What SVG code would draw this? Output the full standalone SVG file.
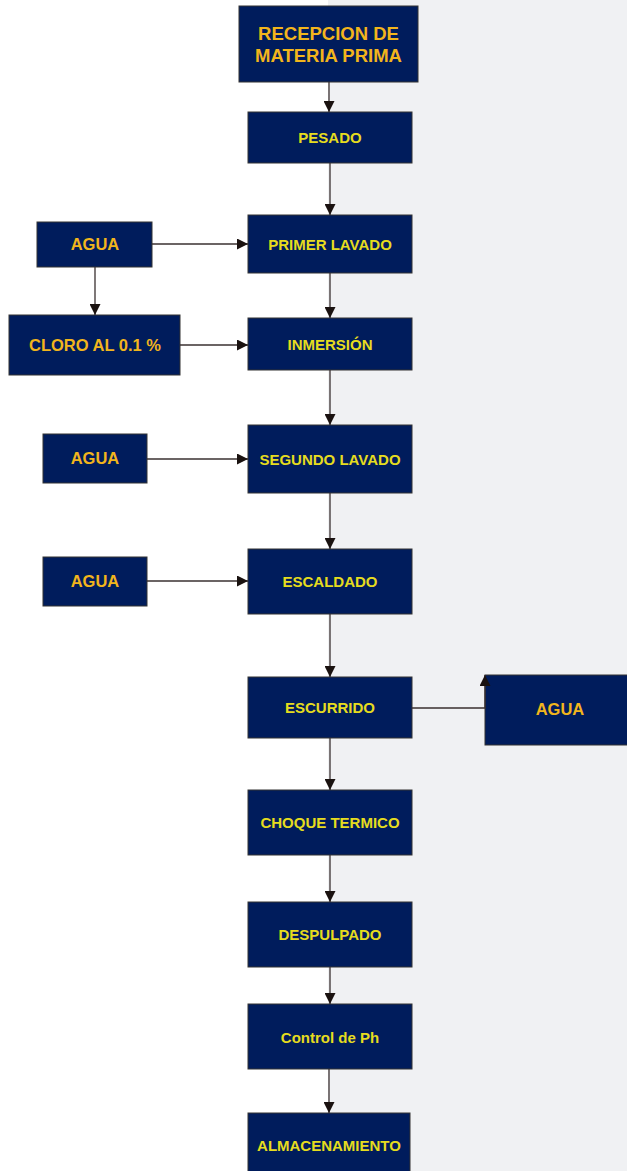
<svg xmlns="http://www.w3.org/2000/svg" width="627" height="1171" viewBox="0 0 627 1171">
<defs>
<marker id="ah" viewBox="0 0 10 10" refX="10" refY="5" markerWidth="11" markerHeight="11" markerUnits="userSpaceOnUse" orient="auto">
<path d="M0,0 L10,5 L0,10 z" fill="#1a1210"/>
</marker>
<style>
.box{fill:#001c5c;stroke:#333333;stroke-width:1}
.t{font-family:"Liberation Sans",Arial,sans-serif;font-weight:bold;text-anchor:middle;dominant-baseline:central}
.o{fill:#f2b51c}
.y{fill:#e6dc1e}
.c{font-size:15px}
.s{font-size:16.5px}
.l{font-size:18.5px}
.ln{fill:none;stroke:#3a3030;stroke-width:1.3}
</style>
</defs>
<rect x="0" y="0" width="627" height="1171" fill="#ffffff"/>
<rect x="328" y="0" width="299" height="1171" fill="#f0f1f3"/>

<g id="n-recepcion"><rect class="box" x="239" y="6" width="179" height="76"/><text class="t o l" x="328.5" y="33">RECEPCION DE</text><text class="t o l" x="328.5" y="55">MATERIA PRIMA</text></g>
<g id="n-pesado"><rect class="box" x="248" y="112" width="164" height="51"/><text class="t y c" x="330" y="137">PESADO</text></g>
<g id="n-primer"><rect class="box" x="248" y="215" width="164" height="58"/><text class="t y c" x="330" y="244">PRIMER LAVADO</text></g>
<g id="n-inmersion"><rect class="box" x="248" y="318" width="164" height="52"/><text class="t y c" x="330" y="344">INMERSIÓN</text></g>
<g id="n-segundo"><rect class="box" x="248" y="425" width="164" height="68"/><text class="t y c" x="330" y="459">SEGUNDO LAVADO</text></g>
<g id="n-escaldado"><rect class="box" x="248" y="549" width="164" height="65"/><text class="t y c" x="330" y="581">ESCALDADO</text></g>
<g id="n-escurrido"><rect class="box" x="248" y="677" width="164" height="61"/><text class="t y c" x="330" y="707">ESCURRIDO</text></g>
<g id="n-choque"><rect class="box" x="248" y="790" width="164" height="65"/><text class="t y c" x="330" y="822">CHOQUE TERMICO</text></g>
<g id="n-despulpado"><rect class="box" x="248" y="902" width="164" height="65"/><text class="t y c" x="330" y="934">DESPULPADO</text></g>
<g id="n-control"><rect class="box" x="248" y="1004" width="164" height="65"/><text class="t y c" x="330" y="1037">Control de Ph</text></g>
<g id="n-almacen"><rect class="box" x="248" y="1113" width="162" height="62"/><text class="t y c" x="329" y="1145">ALMACENAMIENTO</text></g>

<g id="n-agua1"><rect class="box" x="37" y="222" width="115" height="45"/><text class="t o s" x="95" y="244">AGUA</text></g>
<g id="n-cloro"><rect class="box" x="9" y="315" width="171" height="60"/><text class="t o s" x="95" y="345">CLORO AL 0.1 %</text></g>
<g id="n-agua2"><rect class="box" x="43" y="434" width="104" height="49"/><text class="t o s" x="95" y="458">AGUA</text></g>
<g id="n-agua3"><rect class="box" x="43" y="557" width="104" height="49"/><text class="t o s" x="95" y="581">AGUA</text></g>
<g id="n-agua4"><rect class="box" x="485" y="675" width="145" height="70"/><text class="t o s" x="560" y="709">AGUA</text></g>

<g id="connectors">
<path class="ln" d="M329,82 V112" marker-end="url(#ah)"/>
<path class="ln" d="M330,163 V215" marker-end="url(#ah)"/>
<path class="ln" d="M152,244 H248" marker-end="url(#ah)"/>
<path class="ln" d="M95,267 V315" marker-end="url(#ah)"/>
<path class="ln" d="M180,345 H248" marker-end="url(#ah)"/>
<path class="ln" d="M330,273 V318" marker-end="url(#ah)"/>
<path class="ln" d="M330,370 V425" marker-end="url(#ah)"/>
<path class="ln" d="M147,459 H248" marker-end="url(#ah)"/>
<path class="ln" d="M330,493 V549" marker-end="url(#ah)"/>
<path class="ln" d="M147,581 H248" marker-end="url(#ah)"/>
<path class="ln" d="M330,614 V677" marker-end="url(#ah)"/>
<path class="ln" d="M412,708 H485 V675" marker-end="url(#ah)"/>
<path class="ln" d="M330,738 V790" marker-end="url(#ah)"/>
<path class="ln" d="M330,855 V902" marker-end="url(#ah)"/>
<path class="ln" d="M330,967 V1004" marker-end="url(#ah)"/>
<path class="ln" d="M329,1069 V1113" marker-end="url(#ah)"/>
</g>
</svg>
